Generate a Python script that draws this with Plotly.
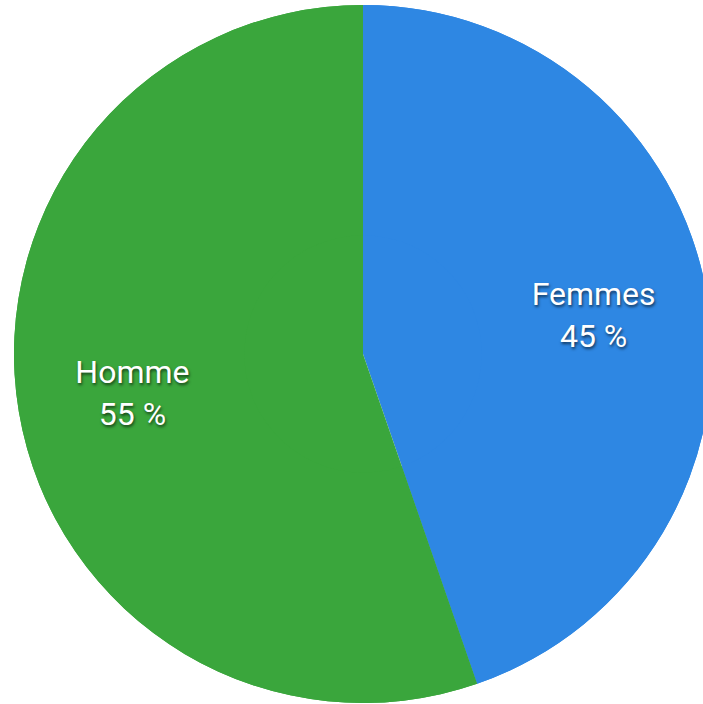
import plotly.graph_objects as go

labels = ["Femmes", "Homme"]
values = [44.7, 55.3]
colors = ["#2e87e3", "#3aa63c"]

pie_domain = dict(x=[0, 1], y=[0.0014, 0.9929])

fig = go.Figure()
# full disc underneath
fig.add_trace(go.Pie(labels=labels, values=values, sort=False,
                     direction="clockwise", rotation=0,
                     marker=dict(colors=colors, line=dict(width=0)),
                     textinfo="none", hoverinfo="skip",
                     domain=pie_domain))
# ring on top, used to push the labels outwards
fig.add_trace(go.Pie(labels=labels, values=values, sort=False,
                     direction="clockwise", rotation=0, hole=0.34,
                     marker=dict(colors=colors, line=dict(width=0)),
                     texttemplate="%{label}<br>%{value:.0f} %",
                     textposition="inside",
                     insidetextorientation="horizontal",
                     textfont=dict(family="Roboto", size=32, color="white",
                                   shadow="1px 2px 3px rgba(0,0,0,0.6)"),
                     hoverinfo="label+percent",
                     domain=pie_domain))

fig.update_layout(width=726, height=704,
                  margin=dict(l=0, r=0, t=0, b=0),
                  showlegend=False,
                  paper_bgcolor="white",
                  plot_bgcolor="white")

fig.write_html("out.html",
               config={"displayModeBar": False},
               post_script="document.body.style.margin='0';"
                           "document.body.style.overflow='hidden';"
                           "document.documentElement.style.overflow='hidden';")
